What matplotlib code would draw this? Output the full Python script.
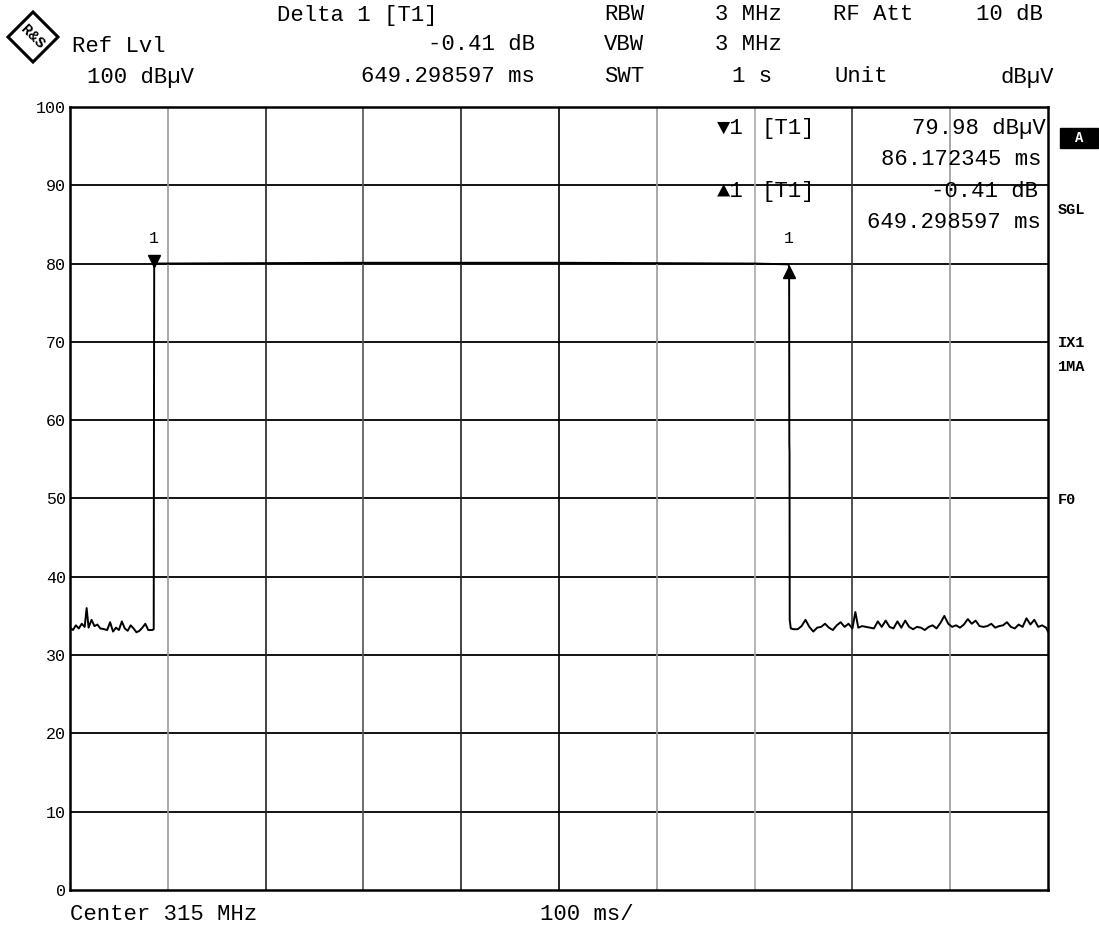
import matplotlib.pyplot as plt
from matplotlib.patches import Polygon, Rectangle

# trace: time (ms) / level (dBuV)
t_left = [0, 3, 6, 9, 12, 15, 17, 19, 22, 25, 28, 31, 35, 38, 41, 44, 47, 50, 53,
          56, 59, 62, 65, 68, 71, 74, 77, 80, 84, 85.6]
lvl_left = [33.5, 33.2, 33.8, 33.4, 34.0, 33.6, 36.0, 33.5, 34.5, 33.7, 33.9, 33.4,
            33.3, 33.2, 34.2, 33.0, 33.5, 33.2, 34.3, 33.4, 33.1, 33.8, 33.4, 32.9,
            33.1, 33.5, 34.0, 33.2, 33.2, 33.3]
t_high = [85.8, 86.1, 86.2, 300, 500, 700, 734.5, 735.3]
lvl_high = [56.5, 79.5, 80.0, 80.1, 80.1, 80.0, 79.9, 79.6]
t_right = [735.5, 735.7, 735.9, 737, 740, 744, 748, 752, 756, 760, 764, 768, 772,
           776, 780, 784, 788, 792, 796, 800, 803, 806, 810, 814, 818, 822, 826,
           830, 834, 838, 842, 846, 850, 854, 858, 862, 866, 870, 874, 878, 882,
           886, 890, 894, 898, 902, 906, 910, 914, 918, 922, 926, 930, 934, 938,
           942, 946, 950, 954, 958, 962, 966, 970, 974, 978, 982, 986, 990, 994,
           998, 1000]
lvl_right = [57.0, 56.0, 34.5, 33.4, 33.3, 33.3, 33.7, 34.5, 33.6, 33.0, 33.5, 33.6,
             34.0, 33.5, 33.2, 33.8, 34.2, 33.6, 34.0, 33.4, 35.5, 33.5, 33.7, 33.6,
             33.5, 33.4, 34.3, 33.6, 34.4, 33.6, 33.4, 34.3, 33.5, 34.4, 33.6, 33.3,
             33.6, 33.5, 33.2, 33.6, 33.8, 33.4, 34.1, 35.0, 34.0, 33.6, 33.8, 33.5,
             33.9, 34.6, 34.0, 34.4, 33.7, 33.6, 33.7, 34.0, 33.5, 33.7, 33.8, 34.2,
             33.6, 33.4, 33.9, 33.6, 34.7, 33.9, 34.5, 33.6, 33.8, 33.5, 33.0]

# markers
m1_t, m1_lvl = 86.172345, 79.98
d1_t, d1_lvl = 735.470942, 79.57

y_ticks = [0, 10, 20, 30, 40, 50, 60, 70, 80, 90, 100]
x_grid = [100, 200, 300, 400, 500, 600, 700, 800, 900]
x_grid_col = ['#999999', '#222222', '#555555', '#222222', '#000000',
              '#999999', '#aaaaaa', '#333333', '#999999']

mono = 'Liberation Mono'
fig = plt.figure(figsize=(10.99, 9.26), dpi=100)
ax = fig.add_axes([0.0637, 0.0389, 0.8899, 0.8456])
ax.set_xlim(0, 1000)
ax.set_ylim(0, 100)

for y in y_ticks[1:-1]:
    ax.axhline(y, color='black', lw=1.3, zorder=1)
for x, c in zip(x_grid, x_grid_col):
    ax.axvline(x, color=c, lw=1.2, zorder=1)

t_all = t_left + t_high + t_right
l_all = lvl_left + lvl_high + lvl_right
ax.plot(t_all, l_all, color='black', lw=1.4, zorder=3)

ax.plot([m1_t], [m1_lvl + 0.4], marker='v', color='black', ms=8, zorder=4)
ax.text(m1_t, 82.2, '1', fontsize=12, family=mono, ha='center', va='bottom')
ax.plot([d1_t], [d1_lvl - 0.6], marker='^', color='black', ms=8, zorder=4)
ax.text(d1_t, 82.2, '1', fontsize=12, family=mono, ha='center', va='bottom')

ax.set_yticks(y_ticks)
ax.set_yticklabels([str(v) for v in y_ticks], family=mono, fontsize=12)
ax.set_xticks([])
ax.tick_params(axis='y', length=0, pad=3)
for s in ax.spines.values():
    s.set_linewidth(1.8)

# marker info inside plot
fs = 16
ax.text(661, 97.3, '\u25bc1', fontsize=fs, family=mono, va='center')
ax.text(707, 97.3, '[T1]', fontsize=fs, family=mono, va='center')
ax.text(998, 97.3, '%.2f dB\u00b5V' % m1_lvl, fontsize=fs, family=mono, va='center', ha='right')
ax.text(993, 93.3, '%.6f ms' % m1_t, fontsize=fs, family=mono, va='center', ha='right')
ax.text(661, 89.2, '\u25b21', fontsize=fs, family=mono, va='center')
ax.text(707, 89.2, '[T1]', fontsize=fs, family=mono, va='center')
ax.text(990, 89.2, '%.2f dB' % (d1_lvl - m1_lvl), fontsize=fs, family=mono, va='center', ha='right')
ax.text(993, 85.2, '%.6f ms' % (d1_t - m1_t), fontsize=fs, family=mono, va='center', ha='right')

# header
W, H = 1099, 926
def ft(x, y, s, ha='left', **kw):
    fig.text(x / W, 1 - y / H, s, ha=ha, va='center', family=mono, fontsize=fs, **kw)

ft(277, 15, 'Delta 1 [T1]')
ft(535, 45, '-0.41 dB', ha='right')
ft(535, 77, '649.298597 ms', ha='right')
ft(72, 46, 'Ref Lvl')
ft(87, 77, '100 dB\u00b5V')
ft(604, 15, 'RBW')
ft(715, 15, '3 MHz')
ft(833, 15, 'RF Att')
ft(976, 15, '10 dB')
ft(604, 45, 'VBW')
ft(715, 45, '3 MHz')
ft(604, 77, 'SWT')
ft(732, 77, '1 s')
ft(835, 77, 'Unit')
ft(1054, 77, 'dB\u00b5V', ha='right')
ft(70, 915, 'Center 315 MHz')
ft(540, 915, '100 ms/')

# side labels
fig.patches.append(Rectangle((1060 / W, 1 - 148 / H), 38 / W, 20 / H,
                             transform=fig.transFigure, color='black'))
fig.text(1079 / W, 1 - 138 / H, 'A', ha='center', va='center', color='white',
         family=mono, fontsize=10, weight='bold')
for yy, s in [(210, 'SGL'), (343, 'IX1'), (367, '1MA'), (500, 'F0')]:
    fig.text(1058 / W, 1 - yy / H, s, ha='left', va='center', family=mono,
             fontsize=11, weight='bold')

# logo
cx, cy, r = 33, 37, 25
fig.patches.append(Polygon([((cx - r) / W, 1 - cy / H), (cx / W, 1 - (cy - r) / H),
                            ((cx + r) / W, 1 - cy / H), (cx / W, 1 - (cy + r) / H)],
                           closed=True, fill=False, lw=2.2, ec='black',
                           transform=fig.transFigure))
fig.text(cx / W, 1 - cy / H, 'R&S', rotation=-45, ha='center', va='center',
         family=mono, fontsize=11, weight='bold')

fig.savefig('out.png', dpi=100)
